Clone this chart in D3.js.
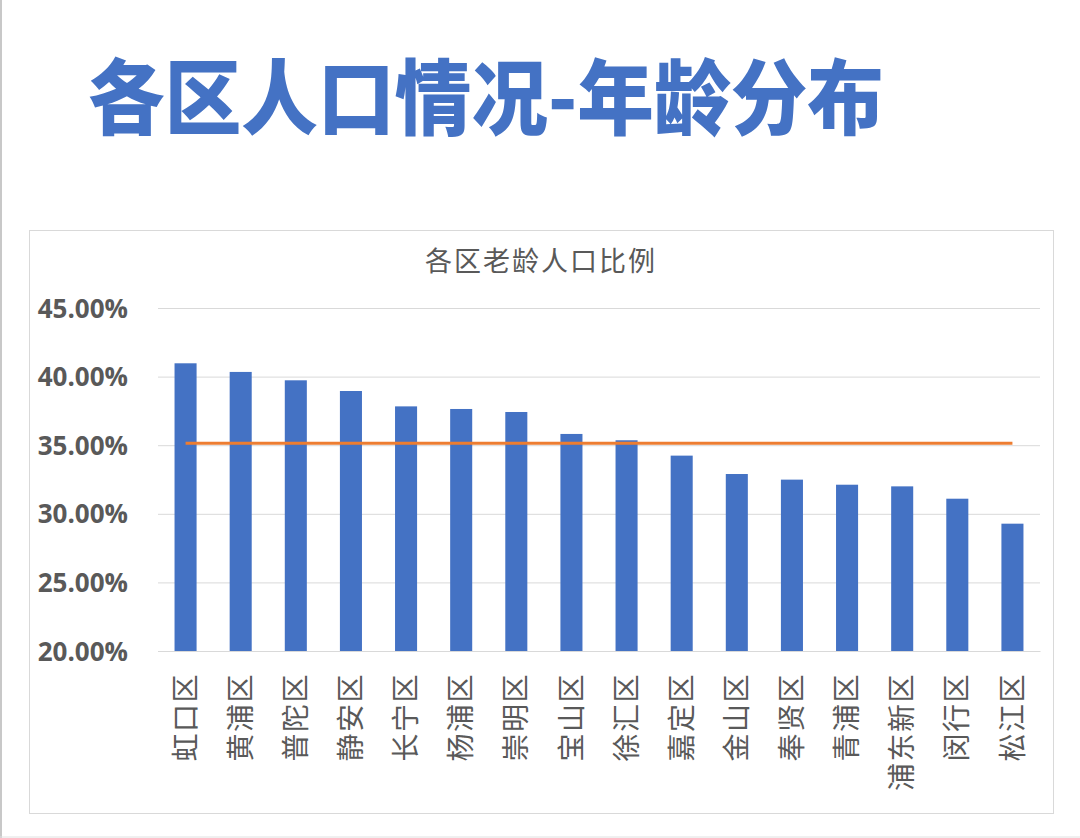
<!DOCTYPE html>
<html>
<head>
<meta charset="utf-8">
<script src="https://cdn.jsdelivr.net/npm/d3@7"></script>
<style>
  html, body { margin: 0; padding: 0; background: #fff; }
  svg { display: block; }
</style>
</head>
<body>
<svg id="chart" width="1080" height="838"></svg>
<script>
// ---- data ----
const pageTitle = "各区人口情况-年龄分布";
const chartTitle = "各区老龄人口比例";
const districts = ["虹口区","黄浦区","普陀区","静安区","长宁区","杨浦区","崇明区","宝山区","徐汇区","嘉定区","金山区","奉贤区","青浦区","浦东新区","闵行区","松江区"];
const elderlyRatio = [0.4097,0.4034,0.3973,0.3895,0.3783,0.3764,0.3742,0.3582,0.3536,0.3424,0.3290,0.3249,0.3212,0.3200,0.3110,0.2928];
const cityAverage = [0.3514,0.3514,0.3514,0.3514,0.3514,0.3514,0.3514,0.3514,0.3514,0.3514,0.3514,0.3514,0.3514,0.3514,0.3514,0.3514];
const yTicks = [0.20,0.25,0.30,0.35,0.40,0.45];

// ---- layout ----
const svg = d3.select("#chart");
const W = 1080, H = 838;
const plot = {left: 158, right: 1040, top: 308, bottom: 651};
const blue = "#4472C4", orange = "#ED7D31", grey = "#595959", grid = "#d9d9d9";
const cjk = "'Noto Sans CJK SC','Noto Sans',sans-serif";

// page frame lines
svg.append("line").attr("x1",1).attr("x2",1).attr("y1",0).attr("y2",H)
  .attr("stroke","#c8c8c8").attr("stroke-width",2);
svg.append("line").attr("x1",0).attr("x2",W).attr("y1",837).attr("y2",837)
  .attr("stroke","#e0e0e0").attr("stroke-width",1);

// page title
const t = svg.append("text")
  .attr("x", 88).attr("y", 128)
  .attr("fill", blue)
  .attr("font-family", cjk)
  .attr("font-weight", 900)
  .attr("font-size", 82)
  .text(pageTitle);
t.attr("textLength", 796).attr("lengthAdjust","spacingAndGlyphs");

// chart box
svg.append("rect").attr("x",29.5).attr("y",230.5).attr("width",1024).attr("height",583)
  .attr("fill","#fff").attr("stroke","#d9d9d9").attr("stroke-width",1);

// chart title
svg.append("text").attr("x",541).attr("y",271)
  .attr("text-anchor","middle")
  .attr("fill",grey)
  .attr("font-family",cjk)
  .attr("font-size",27)
  .attr("letter-spacing",2)
  .text(chartTitle);

// scales
const x = d3.scaleBand().domain(districts).range([plot.left, plot.right])
  .paddingInner(0.6).paddingOuter(0.3);
const y = d3.scaleLinear().domain([0.20,0.45]).range([plot.bottom, plot.top]);

// gridlines via axis
const yAxis = d3.axisLeft(y).tickValues(yTicks).tickSize(-(plot.right-plot.left))
  .tickFormat(d3.format(".2%"));
const gy = svg.append("g").attr("transform",`translate(${plot.left},0)`).call(yAxis);
gy.select(".domain").remove();
gy.selectAll(".tick line").attr("stroke",grid).attr("stroke-width",1);
gy.selectAll(".tick text")
  .attr("x",-30)
  .attr("fill",grey)
  .attr("font-family","'Open Sans','Noto Sans',sans-serif")
  .attr("font-weight",700)
  .attr("font-size",26)
  .attr("dy","0.35em");

// bars
svg.append("g").selectAll("rect").data(districts).join("rect")
  .attr("x", d => x(d))
  .attr("width", x.bandwidth())
  .attr("y", (d,i) => y(elderlyRatio[i]))
  .attr("height", (d,i) => y(0.20) - y(elderlyRatio[i]))
  .attr("fill", blue);

// average line
const line = d3.line()
  .x((d,i) => x(districts[i]) + x.bandwidth()/2)
  .y(d => y(d));
svg.append("path").datum(cityAverage)
  .attr("d", line)
  .attr("fill","none")
  .attr("stroke",orange)
  .attr("stroke-width",3);

// x axis labels (rotated)
const xAxis = d3.axisBottom(x).tickSize(0).tickPadding(0);
const gx = svg.append("g").attr("transform",`translate(0,${plot.bottom})`).call(xAxis);
gx.select(".domain").attr("stroke",grid);
gx.selectAll(".tick text")
  .attr("transform","translate(0,22) rotate(-90)")
  .attr("x",0).attr("y",0).attr("dy","0.36em")
  .attr("text-anchor","end")
  .attr("fill",grey)
  .attr("font-family",cjk)
  .attr("font-size",28)
  .attr("letter-spacing",1.5)
  .style("font-family",cjk);
</script>
</body>
</html>
